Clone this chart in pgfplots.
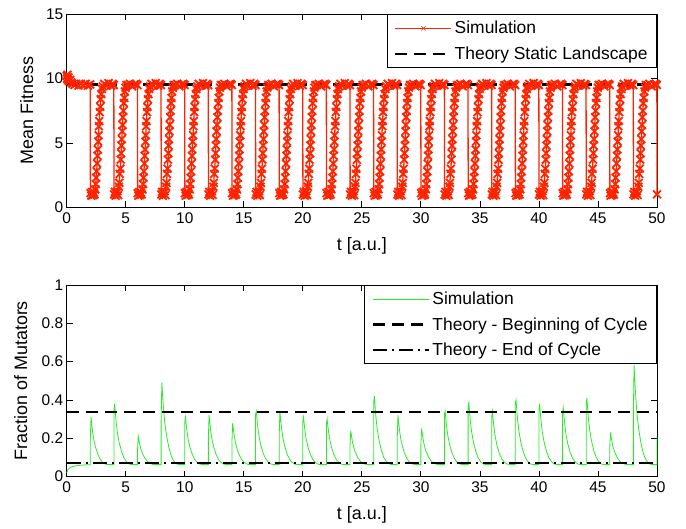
\documentclass[border=0pt]{standalone}
\usepackage{fontspec}
\setmainfont{Liberation Sans}
\usepackage{pgfplots}
\pgfplotsset{compat=1.18}
\definecolor{simred}{RGB}{255,35,0}
\definecolor{simgreen}{RGB}{40,235,40}

\pgfplotsset{
  panel/.style={
    scale only axis, width=590.3bp,
    xmin=0, xmax=50, xtick={0,5,...,50},
    tick align=inside, tick pos=both, major tick length=6bp,
    axis line style={line width=0.8bp},
    every tick/.style={black, line width=0.8bp},
    tick label style={font=\fontsize{15.5}{18}\selectfont},
    label style={font=\fontsize{18}{21}\selectfont},
    /pgf/number format/assume math mode=true,
    xticklabel style={yshift=-2bp},
    clip=false,
    xlabel={t [a.u.]},
    legend cell align=left,
    legend style={at={(1,1)}, anchor=north east, draw=black, line width=0.8bp,
      font=\fontsize{17.5}{20}\selectfont, inner xsep=7bp, inner ysep=4.5bp, row sep=7.5bp},
    legend image code/.code={\draw[mark repeat=2,mark phase=2,##1] plot coordinates {(0bp,0bp) (28bp,0bp) (56bp,0bp)};},
  },
  theoryA/.style={black, line width=2.6bp, dash pattern=on 12bp off 7bp},
  theoryB/.style={black, line width=2.6bp, dash pattern=on 14bp off 5bp on 2bp off 5bp},
}

\begin{document}
\begin{tikzpicture}

% ---------------- top: mean fitness ----------------
\begin{axis}[panel, at={(0,0)}, anchor=north west, height=193bp,
    ymin=0, ymax=15, ytick={0,5,10,15},
    ylabel={Mean Fitness},
    ylabel style={at={(axis description cs:-0.0676,0.5)}, anchor=center},
    xlabel style={at={(axis description cs:0.5,-0.198)}, anchor=center},
  ]
\addplot[simred, line width=1.3bp, mark=x, mark size=5.5bp, mark options={solid, line width=1.8bp}, forget plot] coordinates {
(0,10.2) (0.03,10.0) (0.06,10.3) (0.10,9.9) (0.15,10.1) (0.20,9.8) (0.30,9.9) (0.40,9.7) (0.50,9.6) (0.65,9.5) (0.80,9.6) (1.00,9.45) (1.20,9.6) (1.40,9.5) (1.60,9.6) (1.80,9.45) (1.99,9.55)
(2.01,1.1) (2.08,0.9) (2.15,1.2) (2.22,0.95) (2.29,1.15) (2.36,1.0) (2.42,1.4) (2.46,1.8) (2.50,2.3) (2.54,2.8) (2.58,3.4) (2.61,4.0) (2.64,4.5) (2.67,5.1) (2.70,5.6) (2.73,6.3) (2.76,6.7) (2.80,7.4) (2.84,7.8) (2.88,8.4) (2.93,8.8) (2.99,9.2) (3.06,9.4) (3.18,9.6) (3.35,9.45) (3.55,9.65) (3.75,9.45) (3.88,9.6) (3.99,9.5)
(4.01,1.0) (4.08,1.2) (4.15,0.9) (4.22,1.1) (4.29,1.25) (4.36,0.95) (4.42,1.6) (4.46,1.9) (4.50,2.6) (4.54,3.0) (4.58,3.7) (4.61,4.2) (4.64,4.8) (4.67,5.3) (4.70,5.9) (4.73,6.4) (4.76,7.0) (4.80,7.5) (4.84,8.1) (4.88,8.5) (4.93,9.0) (4.99,9.3) (5.06,9.5) (5.18,9.5) (5.35,9.6) (5.55,9.4) (5.75,9.55) (5.88,9.6) (5.99,9.5)
(6.01,1.1) (6.08,0.9) (6.15,1.2) (6.22,0.95) (6.29,1.15) (6.36,1.0) (6.42,1.4) (6.46,1.8) (6.50,2.3) (6.54,2.8) (6.58,3.4) (6.61,4.0) (6.64,4.5) (6.67,5.1) (6.70,5.6) (6.73,6.3) (6.76,6.7) (6.80,7.4) (6.84,7.8) (6.88,8.4) (6.93,8.8) (6.99,9.2) (7.06,9.4) (7.18,9.6) (7.35,9.45) (7.55,9.65) (7.75,9.45) (7.88,9.6) (7.99,9.5)
(8.01,1.0) (8.08,1.2) (8.15,0.9) (8.22,1.1) (8.29,1.25) (8.36,0.95) (8.42,1.6) (8.46,1.9) (8.50,2.6) (8.54,3.0) (8.58,3.7) (8.61,4.2) (8.64,4.8) (8.67,5.3) (8.70,5.9) (8.73,6.4) (8.76,7.0) (8.80,7.5) (8.84,8.1) (8.88,8.5) (8.93,9.0) (8.99,9.3) (9.06,9.5) (9.18,9.5) (9.35,9.6) (9.55,9.4) (9.75,9.55) (9.88,9.6) (9.99,9.5)
(10.01,1.1) (10.08,0.9) (10.15,1.2) (10.22,0.95) (10.29,1.15) (10.36,1.0) (10.42,1.4) (10.46,1.8) (10.50,2.3) (10.54,2.8) (10.58,3.4) (10.61,4.0) (10.64,4.5) (10.67,5.1) (10.70,5.6) (10.73,6.3) (10.76,6.7) (10.80,7.4) (10.84,7.8) (10.88,8.4) (10.93,8.8) (10.99,9.2) (11.06,9.4) (11.18,9.6) (11.35,9.45) (11.55,9.65) (11.75,9.45) (11.88,9.6) (11.99,9.5)
(12.01,1.0) (12.08,1.2) (12.15,0.9) (12.22,1.1) (12.29,1.25) (12.36,0.95) (12.42,1.6) (12.46,1.9) (12.50,2.6) (12.54,3.0) (12.58,3.7) (12.61,4.2) (12.64,4.8) (12.67,5.3) (12.70,5.9) (12.73,6.4) (12.76,7.0) (12.80,7.5) (12.84,8.1) (12.88,8.5) (12.93,9.0) (12.99,9.3) (13.06,9.5) (13.18,9.5) (13.35,9.6) (13.55,9.4) (13.75,9.55) (13.88,9.6) (13.99,9.5)
(14.01,1.1) (14.08,0.9) (14.15,1.2) (14.22,0.95) (14.29,1.15) (14.36,1.0) (14.42,1.4) (14.46,1.8) (14.50,2.3) (14.54,2.8) (14.58,3.4) (14.61,4.0) (14.64,4.5) (14.67,5.1) (14.70,5.6) (14.73,6.3) (14.76,6.7) (14.80,7.4) (14.84,7.8) (14.88,8.4) (14.93,8.8) (14.99,9.2) (15.06,9.4) (15.18,9.6) (15.35,9.45) (15.55,9.65) (15.75,9.45) (15.88,9.6) (15.99,9.5)
(16.01,1.0) (16.08,1.2) (16.15,0.9) (16.22,1.1) (16.29,1.25) (16.36,0.95) (16.42,1.6) (16.46,1.9) (16.50,2.6) (16.54,3.0) (16.58,3.7) (16.61,4.2) (16.64,4.8) (16.67,5.3) (16.70,5.9) (16.73,6.4) (16.76,7.0) (16.80,7.5) (16.84,8.1) (16.88,8.5) (16.93,9.0) (16.99,9.3) (17.06,9.5) (17.18,9.5) (17.35,9.6) (17.55,9.4) (17.75,9.55) (17.88,9.6) (17.99,9.5)
(18.01,1.1) (18.08,0.9) (18.15,1.2) (18.22,0.95) (18.29,1.15) (18.36,1.0) (18.42,1.4) (18.46,1.8) (18.50,2.3) (18.54,2.8) (18.58,3.4) (18.61,4.0) (18.64,4.5) (18.67,5.1) (18.70,5.6) (18.73,6.3) (18.76,6.7) (18.80,7.4) (18.84,7.8) (18.88,8.4) (18.93,8.8) (18.99,9.2) (19.06,9.4) (19.18,9.6) (19.35,9.45) (19.55,9.65) (19.75,9.45) (19.88,9.6) (19.99,9.5)
(20.01,1.0) (20.08,1.2) (20.15,0.9) (20.22,1.1) (20.29,1.25) (20.36,0.95) (20.42,1.6) (20.46,1.9) (20.50,2.6) (20.54,3.0) (20.58,3.7) (20.61,4.2) (20.64,4.8) (20.67,5.3) (20.70,5.9) (20.73,6.4) (20.76,7.0) (20.80,7.5) (20.84,8.1) (20.88,8.5) (20.93,9.0) (20.99,9.3) (21.06,9.5) (21.18,9.5) (21.35,9.6) (21.55,9.4) (21.75,9.55) (21.88,9.6) (21.99,9.5)
(22.01,1.1) (22.08,0.9) (22.15,1.2) (22.22,0.95) (22.29,1.15) (22.36,1.0) (22.42,1.4) (22.46,1.8) (22.50,2.3) (22.54,2.8) (22.58,3.4) (22.61,4.0) (22.64,4.5) (22.67,5.1) (22.70,5.6) (22.73,6.3) (22.76,6.7) (22.80,7.4) (22.84,7.8) (22.88,8.4) (22.93,8.8) (22.99,9.2) (23.06,9.4) (23.18,9.6) (23.35,9.45) (23.55,9.65) (23.75,9.45) (23.88,9.6) (23.99,9.5)
(24.01,1.0) (24.08,1.2) (24.15,0.9) (24.22,1.1) (24.29,1.25) (24.36,0.95) (24.42,1.6) (24.46,1.9) (24.50,2.6) (24.54,3.0) (24.58,3.7) (24.61,4.2) (24.64,4.8) (24.67,5.3) (24.70,5.9) (24.73,6.4) (24.76,7.0) (24.80,7.5) (24.84,8.1) (24.88,8.5) (24.93,9.0) (24.99,9.3) (25.06,9.5) (25.18,9.5) (25.35,9.6) (25.55,9.4) (25.75,9.55) (25.88,9.6) (25.99,9.5)
(26.01,1.1) (26.08,0.9) (26.15,1.2) (26.22,0.95) (26.29,1.15) (26.36,1.0) (26.42,1.4) (26.46,1.8) (26.50,2.3) (26.54,2.8) (26.58,3.4) (26.61,4.0) (26.64,4.5) (26.67,5.1) (26.70,5.6) (26.73,6.3) (26.76,6.7) (26.80,7.4) (26.84,7.8) (26.88,8.4) (26.93,8.8) (26.99,9.2) (27.06,9.4) (27.18,9.6) (27.35,9.45) (27.55,9.65) (27.75,9.45) (27.88,9.6) (27.99,9.5)
(28.01,1.0) (28.08,1.2) (28.15,0.9) (28.22,1.1) (28.29,1.25) (28.36,0.95) (28.42,1.6) (28.46,1.9) (28.50,2.6) (28.54,3.0) (28.58,3.7) (28.61,4.2) (28.64,4.8) (28.67,5.3) (28.70,5.9) (28.73,6.4) (28.76,7.0) (28.80,7.5) (28.84,8.1) (28.88,8.5) (28.93,9.0) (28.99,9.3) (29.06,9.5) (29.18,9.5) (29.35,9.6) (29.55,9.4) (29.75,9.55) (29.88,9.6) (29.99,9.5)
(30.01,1.1) (30.08,0.9) (30.15,1.2) (30.22,0.95) (30.29,1.15) (30.36,1.0) (30.42,1.4) (30.46,1.8) (30.50,2.3) (30.54,2.8) (30.58,3.4) (30.61,4.0) (30.64,4.5) (30.67,5.1) (30.70,5.6) (30.73,6.3) (30.76,6.7) (30.80,7.4) (30.84,7.8) (30.88,8.4) (30.93,8.8) (30.99,9.2) (31.06,9.4) (31.18,9.6) (31.35,9.45) (31.55,9.65) (31.75,9.45) (31.88,9.6) (31.99,9.5)
(32.01,1.0) (32.08,1.2) (32.15,0.9) (32.22,1.1) (32.29,1.25) (32.36,0.95) (32.42,1.6) (32.46,1.9) (32.50,2.6) (32.54,3.0) (32.58,3.7) (32.61,4.2) (32.64,4.8) (32.67,5.3) (32.70,5.9) (32.73,6.4) (32.76,7.0) (32.80,7.5) (32.84,8.1) (32.88,8.5) (32.93,9.0) (32.99,9.3) (33.06,9.5) (33.18,9.5) (33.35,9.6) (33.55,9.4) (33.75,9.55) (33.88,9.6) (33.99,9.5)
(34.01,1.1) (34.08,0.9) (34.15,1.2) (34.22,0.95) (34.29,1.15) (34.36,1.0) (34.42,1.4) (34.46,1.8) (34.50,2.3) (34.54,2.8) (34.58,3.4) (34.61,4.0) (34.64,4.5) (34.67,5.1) (34.70,5.6) (34.73,6.3) (34.76,6.7) (34.80,7.4) (34.84,7.8) (34.88,8.4) (34.93,8.8) (34.99,9.2) (35.06,9.4) (35.18,9.6) (35.35,9.45) (35.55,9.65) (35.75,9.45) (35.88,9.6) (35.99,9.5)
(36.01,1.0) (36.08,1.2) (36.15,0.9) (36.22,1.1) (36.29,1.25) (36.36,0.95) (36.42,1.6) (36.46,1.9) (36.50,2.6) (36.54,3.0) (36.58,3.7) (36.61,4.2) (36.64,4.8) (36.67,5.3) (36.70,5.9) (36.73,6.4) (36.76,7.0) (36.80,7.5) (36.84,8.1) (36.88,8.5) (36.93,9.0) (36.99,9.3) (37.06,9.5) (37.18,9.5) (37.35,9.6) (37.55,9.4) (37.75,9.55) (37.88,9.6) (37.99,9.5)
(38.01,1.1) (38.08,0.9) (38.15,1.2) (38.22,0.95) (38.29,1.15) (38.36,1.0) (38.42,1.4) (38.46,1.8) (38.50,2.3) (38.54,2.8) (38.58,3.4) (38.61,4.0) (38.64,4.5) (38.67,5.1) (38.70,5.6) (38.73,6.3) (38.76,6.7) (38.80,7.4) (38.84,7.8) (38.88,8.4) (38.93,8.8) (38.99,9.2) (39.06,9.4) (39.18,9.6) (39.35,9.45) (39.55,9.65) (39.75,9.45) (39.88,9.6) (39.99,9.5)
(40.01,1.0) (40.08,1.2) (40.15,0.9) (40.22,1.1) (40.29,1.25) (40.36,0.95) (40.42,1.6) (40.46,1.9) (40.50,2.6) (40.54,3.0) (40.58,3.7) (40.61,4.2) (40.64,4.8) (40.67,5.3) (40.70,5.9) (40.73,6.4) (40.76,7.0) (40.80,7.5) (40.84,8.1) (40.88,8.5) (40.93,9.0) (40.99,9.3) (41.06,9.5) (41.18,9.5) (41.35,9.6) (41.55,9.4) (41.75,9.55) (41.88,9.6) (41.99,9.5)
(42.01,1.1) (42.08,0.9) (42.15,1.2) (42.22,0.95) (42.29,1.15) (42.36,1.0) (42.42,1.4) (42.46,1.8) (42.50,2.3) (42.54,2.8) (42.58,3.4) (42.61,4.0) (42.64,4.5) (42.67,5.1) (42.70,5.6) (42.73,6.3) (42.76,6.7) (42.80,7.4) (42.84,7.8) (42.88,8.4) (42.93,8.8) (42.99,9.2) (43.06,9.4) (43.18,9.6) (43.35,9.45) (43.55,9.65) (43.75,9.45) (43.88,9.6) (43.99,9.5)
(44.01,1.0) (44.08,1.2) (44.15,0.9) (44.22,1.1) (44.29,1.25) (44.36,0.95) (44.42,1.6) (44.46,1.9) (44.50,2.6) (44.54,3.0) (44.58,3.7) (44.61,4.2) (44.64,4.8) (44.67,5.3) (44.70,5.9) (44.73,6.4) (44.76,7.0) (44.80,7.5) (44.84,8.1) (44.88,8.5) (44.93,9.0) (44.99,9.3) (45.06,9.5) (45.18,9.5) (45.35,9.6) (45.55,9.4) (45.75,9.55) (45.88,9.6) (45.99,9.5)
(46.01,1.1) (46.08,0.9) (46.15,1.2) (46.22,0.95) (46.29,1.15) (46.36,1.0) (46.42,1.4) (46.46,1.8) (46.50,2.3) (46.54,2.8) (46.58,3.4) (46.61,4.0) (46.64,4.5) (46.67,5.1) (46.70,5.6) (46.73,6.3) (46.76,6.7) (46.80,7.4) (46.84,7.8) (46.88,8.4) (46.93,8.8) (46.99,9.2) (47.06,9.4) (47.18,9.6) (47.35,9.45) (47.55,9.65) (47.75,9.45) (47.88,9.6) (47.99,9.5)
(48.01,1.0) (48.08,1.2) (48.15,0.9) (48.22,1.1) (48.29,1.25) (48.36,0.95) (48.42,1.6) (48.46,1.9) (48.50,2.6) (48.54,3.0) (48.58,3.7) (48.61,4.2) (48.64,4.8) (48.67,5.3) (48.70,5.9) (48.73,6.4) (48.76,7.0) (48.80,7.5) (48.84,8.1) (48.88,8.5) (48.93,9.0) (48.99,9.3) (49.06,9.5) (49.18,9.5) (49.35,9.6) (49.55,9.4) (49.75,9.55) (49.88,9.6) (49.99,9.5)
(50,1.0)
};
\addlegendimage{simred, line width=0.6bp, mark=x, mark size=3bp, mark options={solid, line width=0.6bp}}
\addlegendentry{Simulation}
\addplot[theoryA] coordinates {(0,9.55) (50,9.55)};
\addlegendentry{Theory Static Landscape}
\end{axis}

% ---------------- bottom: fraction of mutators ----------------
\begin{axis}[panel, at={(0,-270.7bp)}, anchor=north west, height=191.5bp,
    ymin=0, ymax=1, ytick={0,0.2,0.4,0.6,0.8,1},
    ylabel={Fraction of Mutators},
    ylabel style={at={(axis description cs:-0.0778,0.5)}, anchor=center},
    xlabel style={at={(axis description cs:0.5,-0.201)}, anchor=center},
  ]
\addplot[simgreen, line width=0.8bp] coordinates {
(0,0.020) (0.10,0.035) (0.25,0.045) (0.50,0.052) (0.80,0.056) (1.20,0.059) (1.60,0.061) (2,0.062)
(2,0.198) (2.06,0.310) (2.12,0.273) (2.20,0.231) (2.30,0.191) (2.45,0.151) (2.65,0.114) (2.85,0.089) (3.05,0.074) (3.30,0.064) (3.60,0.062) (3.99,0.062)
(4,0.062) (4,0.348) (4.06,0.380) (4.12,0.332) (4.20,0.278) (4.30,0.227) (4.45,0.176) (4.65,0.129) (4.85,0.097) (5.05,0.078) (5.30,0.065) (5.60,0.062) (5.99,0.062)
(6,0.062) (6,0.143) (6.06,0.210) (6.12,0.188) (6.20,0.163) (6.30,0.139) (6.45,0.115) (6.65,0.093) (6.85,0.078) (7.05,0.069) (7.30,0.063) (7.60,0.062) (7.99,0.062)
(8,0.062) (8,0.297) (8.06,0.490) (8.12,0.426) (8.20,0.353) (8.30,0.285) (8.45,0.216) (8.65,0.152) (8.85,0.109) (9.05,0.083) (9.30,0.066) (9.60,0.062) (9.99,0.062)
(10,0.062) (10,0.285) (10.06,0.310) (10.12,0.273) (10.20,0.231) (10.30,0.191) (10.45,0.151) (10.65,0.114) (10.85,0.089) (11.05,0.074) (11.30,0.064) (11.60,0.062) (11.99,0.062)
(12,0.062) (12,0.204) (12.06,0.320) (12.12,0.281) (12.20,0.237) (12.30,0.196) (12.45,0.155) (12.65,0.116) (12.85,0.090) (13.05,0.075) (13.30,0.065) (13.60,0.062) (13.99,0.062)
(14,0.062) (14,0.182) (14.06,0.280) (14.12,0.247) (14.20,0.210) (14.30,0.175) (14.45,0.140) (14.65,0.108) (14.85,0.086) (15.05,0.073) (15.30,0.064) (15.60,0.062) (15.99,0.062)
(16,0.062) (16,0.326) (16.06,0.340) (16.12,0.298) (16.20,0.251) (16.30,0.207) (16.45,0.162) (16.65,0.120) (16.85,0.093) (17.05,0.076) (17.30,0.065) (17.60,0.062) (17.99,0.062)
(18,0.062) (18,0.215) (18.06,0.340) (18.12,0.298) (18.20,0.251) (18.30,0.207) (18.45,0.162) (18.65,0.120) (18.85,0.093) (19.05,0.076) (19.30,0.065) (19.60,0.062) (19.99,0.062)
(20,0.062) (20,0.285) (20.06,0.310) (20.12,0.273) (20.20,0.231) (20.30,0.191) (20.45,0.151) (20.65,0.114) (20.85,0.089) (21.05,0.074) (21.30,0.064) (21.60,0.062) (21.99,0.062)
(22,0.062) (22,0.276) (22.06,0.300) (22.12,0.264) (22.20,0.224) (22.30,0.186) (22.45,0.148) (22.65,0.112) (22.85,0.088) (23.05,0.074) (23.30,0.064) (23.60,0.062) (23.99,0.062)
(24,0.062) (24,0.160) (24.06,0.240) (24.12,0.213) (24.20,0.183) (24.30,0.155) (24.45,0.126) (24.65,0.099) (24.85,0.082) (25.05,0.071) (25.30,0.064) (25.60,0.062) (25.99,0.062)
(26,0.062) (26,0.384) (26.06,0.420) (26.12,0.366) (26.20,0.305) (26.30,0.248) (26.45,0.191) (26.65,0.137) (26.85,0.101) (27.05,0.080) (27.30,0.066) (27.60,0.062) (27.99,0.062)
(28,0.062) (28,0.204) (28.06,0.320) (28.12,0.281) (28.20,0.237) (28.30,0.196) (28.45,0.155) (28.65,0.116) (28.85,0.090) (29.05,0.075) (29.30,0.065) (29.60,0.062) (29.99,0.062)
(30,0.062) (30,0.165) (30.06,0.250) (30.12,0.222) (30.20,0.190) (30.30,0.160) (30.45,0.130) (30.65,0.101) (30.85,0.083) (31.05,0.071) (31.30,0.064) (31.60,0.062) (31.99,0.062)
(32,0.062) (32,0.326) (32.06,0.340) (32.12,0.298) (32.20,0.251) (32.30,0.207) (32.45,0.162) (32.65,0.120) (32.85,0.093) (33.05,0.076) (33.30,0.065) (33.60,0.062) (33.99,0.062)
(34,0.062) (34,0.357) (34.06,0.390) (34.12,0.341) (34.20,0.285) (34.30,0.233) (34.45,0.180) (34.65,0.131) (34.85,0.098) (35.05,0.078) (35.30,0.065) (35.60,0.062) (35.99,0.062)
(36,0.062) (36,0.312) (36.06,0.340) (36.12,0.298) (36.20,0.251) (36.30,0.207) (36.45,0.162) (36.65,0.120) (36.85,0.093) (37.05,0.076) (37.30,0.065) (37.60,0.062) (37.99,0.062)
(38,0.062) (38,0.383) (38.06,0.400) (38.12,0.349) (38.20,0.292) (38.30,0.238) (38.45,0.184) (38.65,0.133) (38.85,0.099) (39.05,0.079) (39.30,0.065) (39.60,0.062) (39.99,0.062)
(40,0.062) (40,0.348) (40.06,0.380) (40.12,0.332) (40.20,0.278) (40.30,0.227) (40.45,0.176) (40.65,0.129) (40.85,0.097) (41.05,0.078) (41.30,0.065) (41.60,0.062) (41.99,0.062)
(42,0.062) (42,0.330) (42.06,0.360) (42.12,0.315) (42.20,0.265) (42.30,0.217) (42.45,0.169) (42.65,0.125) (42.85,0.095) (43.05,0.077) (43.30,0.065) (43.60,0.062) (43.99,0.062)
(44,0.062) (44,0.375) (44.06,0.410) (44.12,0.358) (44.20,0.299) (44.30,0.243) (44.45,0.187) (44.65,0.135) (44.85,0.100) (45.05,0.079) (45.30,0.065) (45.60,0.062) (45.99,0.062)
(46,0.062) (46,0.154) (46.06,0.230) (46.12,0.205) (46.20,0.176) (46.30,0.149) (46.45,0.122) (46.65,0.097) (46.85,0.080) (47.05,0.070) (47.30,0.064) (47.60,0.062) (47.99,0.062)
(48,0.062) (48,0.347) (48.06,0.580) (48.12,0.502) (48.20,0.414) (48.30,0.331) (48.45,0.248) (48.65,0.171) (48.85,0.119) (49.05,0.088) (49.30,0.067) (49.60,0.062) (49.99,0.062)
(50,0.062) (50,0.210)
};
\addlegendentry{Simulation}
\addplot[theoryA] coordinates {(0,0.337) (50,0.337)};
\addlegendentry{Theory - Beginning of Cycle}
\addplot[theoryB] coordinates {(0,0.070) (50,0.070)};
\addlegendentry{Theory - End of Cycle}
\end{axis}

\pgfresetboundingbox
\path[use as bounding box] (-66.7bp,14.3bp) rectangle (619.3bp,-514.7bp);
\end{tikzpicture}
\end{document}
